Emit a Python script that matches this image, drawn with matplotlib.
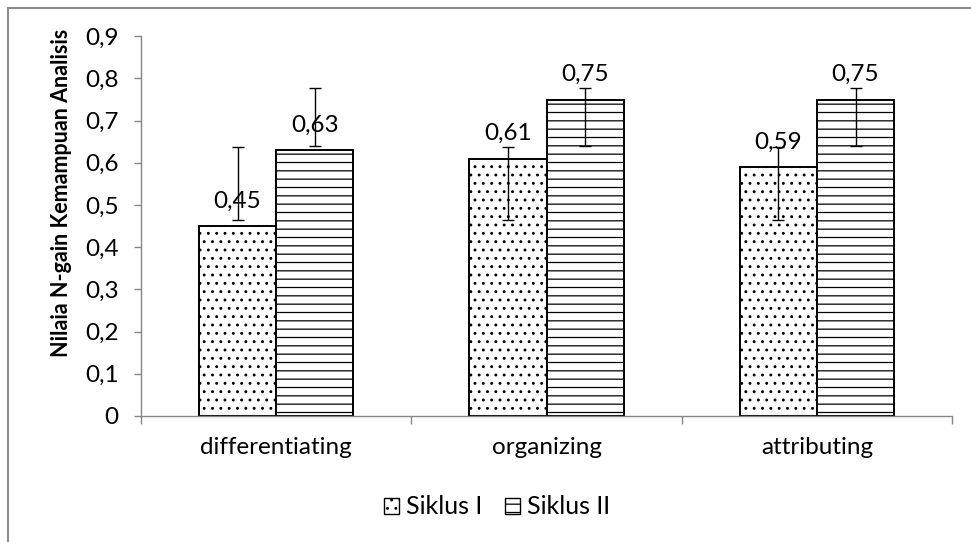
import matplotlib
matplotlib.use('Agg')
import matplotlib.pyplot as plt
import matplotlib.patches as mpatches
import numpy as np

plt.rcParams['font.family'] = ['Lato', 'DejaVu Sans']
plt.rcParams['hatch.linewidth'] = 0.9

categories = ['differentiating', 'organizing', 'attributing']
series = ['Siklus I', 'Siklus II']
siklus1 = [0.45, 0.61, 0.59]
siklus2 = [0.63, 0.75, 0.75]
# error bar ends (same for every category)
err1_low = [0.464, 0.464, 0.464]
err1_high = [0.638, 0.638, 0.638]
err2_low = [0.640, 0.640, 0.640]
err2_high = [0.778, 0.778, 0.778]
yticks = [0, 0.1, 0.2, 0.3, 0.4, 0.5, 0.6, 0.7, 0.8, 0.9]

fig = plt.figure(figsize=(9.71, 5.42), dpi=100)
ax = fig.add_axes([0.1452, 0.2325, 0.8353, 0.7007])

x = np.arange(len(categories))
w = 0.286
axis_col = '#868686'
fs = 17.5

b1 = ax.bar(x - w/2, siklus1, w, color='white', edgecolor='black', hatch='..', linewidth=1.4, label=series[0])
b2 = ax.bar(x + w/2, siklus2, w, color='white', edgecolor='black', hatch='--', linewidth=1.4, label=series[1])

# Excel style error bars: bar-independent low/high ends
for xs, lo, hi in [(x - w/2, err1_low, err1_high), (x + w/2, err2_low, err2_high)]:
    mid = (np.array(lo) + np.array(hi)) / 2
    half = (np.array(hi) - np.array(lo)) / 2
    ax.errorbar(xs, mid, yerr=half, fmt='none', ecolor='black', elinewidth=1, capsize=4.5, capthick=1)

for xs, vals in [(x - w/2, siklus1), (x + w/2, siklus2)]:
    for xi, v in zip(xs, vals):
        ax.annotate(('%.2f' % v).replace('.', ','), (xi, v), xytext=(0, 18), textcoords='offset points',
                    ha='center', va='center', fontsize=fs)

ax.set_xlim(-0.5, len(categories) - 0.5)
ax.set_ylim(0, 0.9)
ax.set_yticks(yticks)
ax.set_yticklabels([('%g' % t).replace('.', ',') for t in yticks], fontsize=fs)
ax.set_xticks(x)
ax.set_xticklabels(categories, fontsize=fs)
ax.set_xticks(np.arange(len(categories) + 1) - 0.5, minor=True)
ax.tick_params(axis='x', which='major', length=0, pad=15)
ax.tick_params(axis='x', which='minor', length=6, color=axis_col, width=1, direction='out')
ax.tick_params(axis='y', length=5, color=axis_col, width=1, direction='out', pad=11)

for s in ['top', 'right']:
    ax.spines[s].set_visible(False)
for s in ['left', 'bottom']:
    ax.spines[s].set_color(axis_col)
    ax.spines[s].set_linewidth(1)

fig.text(62/971, 1 - 193/542, 'Nilaia N-gain Kemampuan Analisis', rotation=90, ha='center', va='center',
         fontsize=15.5, fontweight='bold')

h1 = mpatches.Patch(facecolor='white', edgecolor='black', hatch='..', label=series[0])
h2 = mpatches.Patch(facecolor='white', edgecolor='black', hatch='--', label=series[1])
fig.legend(handles=[h1, h2], loc='center', bbox_to_anchor=(497/971, 1 - 507/542), ncol=2, frameon=False,
           fontsize=18, handlelength=0.6, handleheight=0.6, handletextpad=0.3, columnspacing=0.9)

# outer chart border
fig.patches.append(mpatches.Rectangle((8/971, -0.05), 1.1, 1 - 8/542 + 0.05, transform=fig.transFigure,
                                      fill=False, edgecolor='#8c8c8c', linewidth=1.5))

fig.savefig('out.png', dpi=100)
